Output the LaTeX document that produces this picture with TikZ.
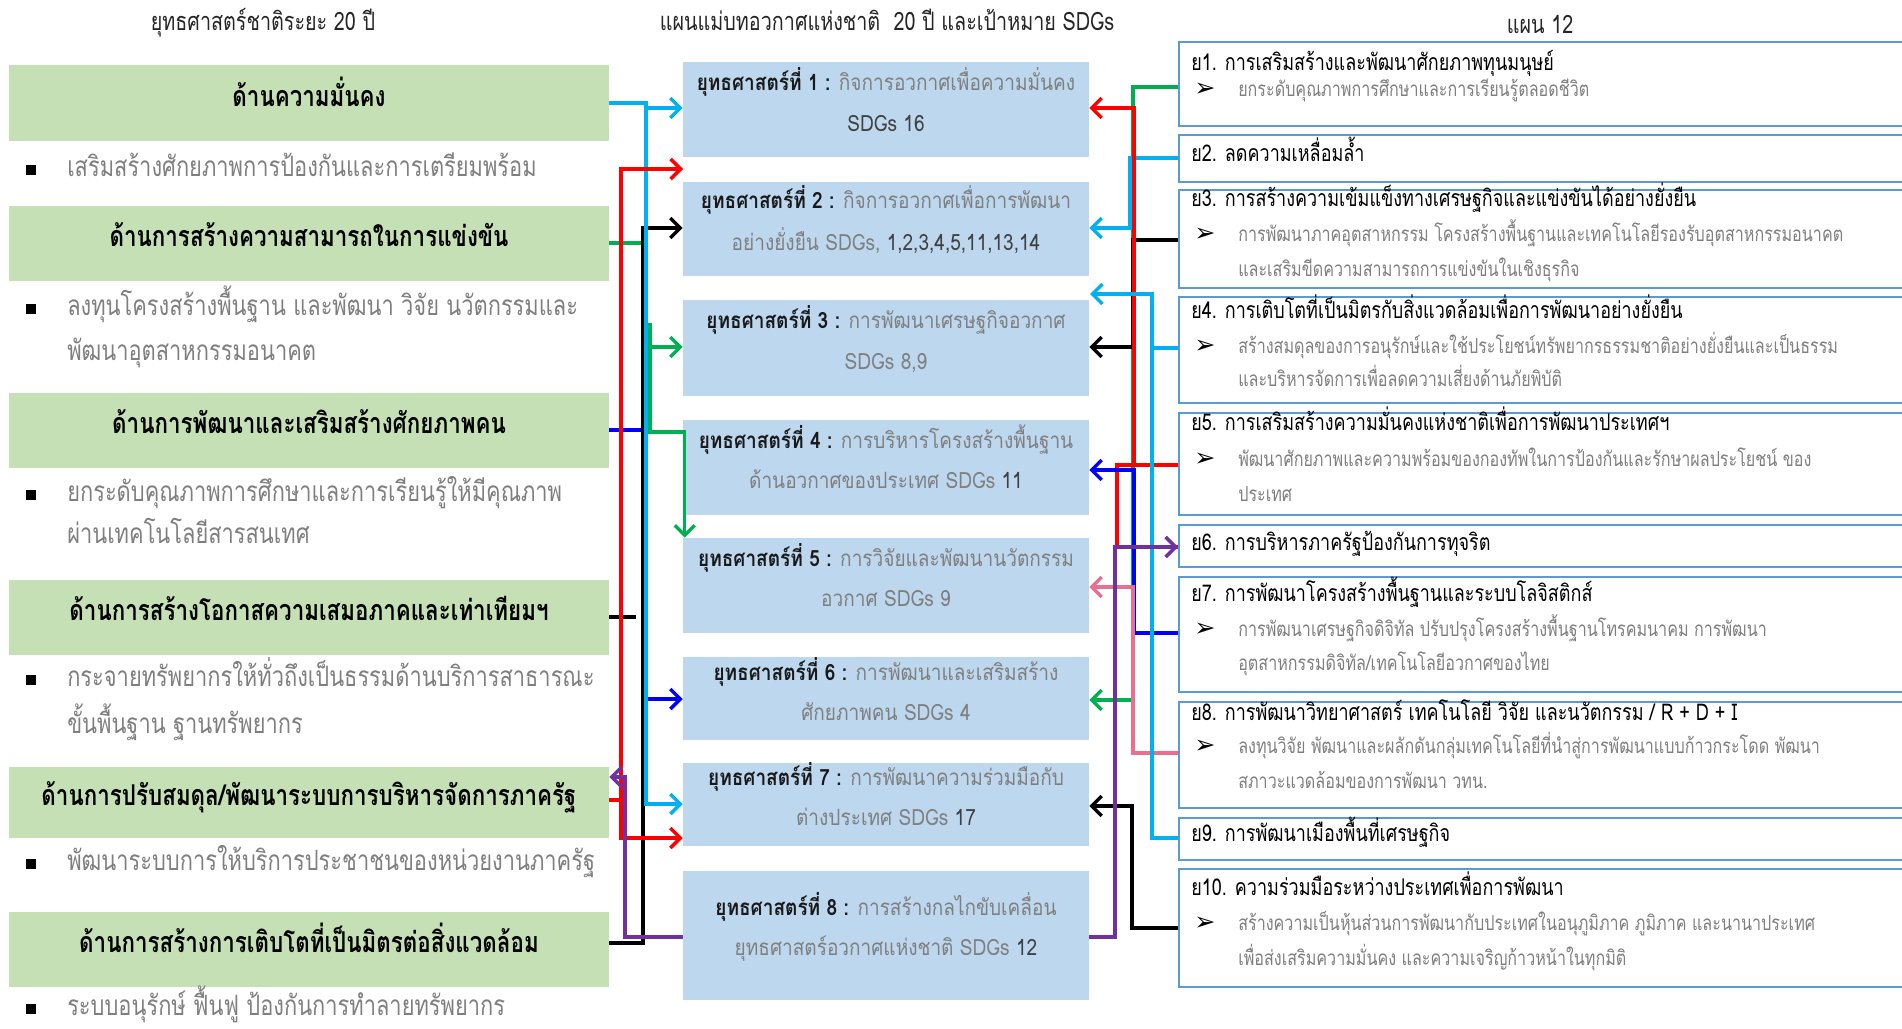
\documentclass[tikz,border=0pt]{standalone}
\usepackage{fontspec}
\setmainfont[Script=Thai,FakeStretch=0.78]{Loma}
\newfontfamily\thaim[Script=Thai,FakeStretch=0.85]{Loma}
\newfontfamily\symf{DejaVu Sans}
\usetikzlibrary{arrows.meta,fit}
\definecolor{gbx}{HTML}{C5E0B4}
\definecolor{mbx}{HTML}{BDD7EE}
\definecolor{rbd}{HTML}{5B9BD5}
\definecolor{gtx}{HTML}{7F7F7F}
\definecolor{dtx}{HTML}{404040}
\definecolor{cyl}{HTML}{00B0F0}
\definecolor{rdl}{HTML}{FF0000}
\definecolor{grl}{HTML}{00B050}
\definecolor{bll}{HTML}{0000FF}
\definecolor{pul}{HTML}{7030A0}
\definecolor{pkl}{HTML}{E8708E}
\tikzset{arr/.tip={Straight Barb[length=7.5pt,width=15pt]}}
\newcommand\st[1]{{\bfseries\color{black!90}ยุทธศาสตร์ที่ #1 :}}
\newcommand\dk[1]{{\color{dtx}#1}}
\begin{document}
\begin{tikzpicture}[x=0.75pt,y=-0.75pt,
  gbox/.style={fill=gbx,draw=none,inner sep=0pt},
  mbox/.style={fill=mbx,draw=none,inner sep=0pt},
  rbox/.style={fill=white,draw=rbd,line width=1.5pt,inner sep=0pt},
  ttl/.style={font=\fontsize{19}{22}\selectfont,text=black!85,inner sep=0pt,anchor=mid},
  lt/.style={font=\bfseries\fontsize{21.5}{25}\selectfont,text=black,inner sep=0pt,anchor=mid},
  lb/.style={font=\fontsize{21}{25}\selectfont,text=gtx,inner sep=0pt,anchor=mid west},
  lsq/.style={fill=black,inner sep=0pt,minimum size=7pt},
  mt/.style={font=\thaim\fontsize{16.8}{20}\selectfont,text=gtx,inner sep=0pt,anchor=mid},
  rt/.style={font=\fontsize{17.3}{20}\selectfont,text=black,inner sep=0pt,anchor=mid west},
  rb/.style={font=\fontsize{15.5}{18}\selectfont,text=gtx,inner sep=0pt,anchor=mid west},
  ra/.style={font=\symf\fontsize{19}{19}\selectfont,text=black,inner sep=0pt,anchor=mid},
  ln/.style={line width=2.6pt}]
\useasboundingbox (0,0) rectangle (1902,1028);
\clip (0,0) rectangle (1902,1028);
\fill[white] (0,0) rectangle (1902,1028);

% titles
\node[ttl] (T1) at (263,27) {ยุทธศาสตร์ชาติระยะ 20 ปี};
\node[ttl] (T2) at (887,27) {แผนแม่บทอวกาศแห่งชาติ\ \ 20 ปี และเป้าหมาย SDGs};
\node[ttl] (T3) at (1540,30) {แผน 12};

% left boxes
\node[gbox,fit={(9,65)(609,141)}] (L1) {};
\node[gbox,fit={(9,206)(609,281)}] (L2) {};
\node[gbox,fit={(9,393)(609,468)}] (L3) {};
\node[gbox,fit={(9,580)(609,655)}] (L4) {};
\node[gbox,fit={(9,767)(609,838)}] (L5) {};
\node[gbox,fit={(9,912)(609,987)}] (L6) {};
\node[lt] (lt1) at (L1.center) {ด้านความมั่นคง};
\node[lt] (lt2) at (L2.center) {ด้านการสร้างความสามารถในการแข่งขัน};
\node[lt] (lt3) at (L3.center) {ด้านการพัฒนาและเสริมสร้างศักยภาพคน};
\node[lt] (lt4) at (L4.center) {ด้านการสร้างโอกาสความเสมอภาคและเท่าเทียมฯ};
\node[lt] (lt5) at (L5.center) {ด้านการปรับสมดุล/พัฒนาระบบการบริหารจัดการภาครัฐ};
\node[lt] (lt6) at (L6.center) {ด้านการสร้างการเติบโตที่เป็นมิตรต่อสิ่งแวดล้อม};

\node[lsq] (q1) at (31,170) {};
\node[lb] (b1) at (67,173) {เสริมสร้างศักยภาพการป้องกันและการเตรียมพร้อม};
\node[lsq] (q2) at (31,309) {};
\node[lb] (b2a) at (67,312) {ลงทุนโครงสร้างพื้นฐาน และพัฒนา วิจัย นวัตกรรมและ};
\node[lb] (b2b) at (67,357) {พัฒนาอุตสาหกรรมอนาคต};
\node[lsq] (q3) at (31,495) {};
\node[lb] (b3a) at (67,498) {ยกระดับคุณภาพการศึกษาและการเรียนรู้ให้มีคุณภาพ};
\node[lb] (b3b) at (67,540) {ผ่านเทคโนโลยีสารสนเทศ};
\node[lsq] (q4) at (31,680) {};
\node[lb] (b4a) at (67,683) {กระจายทรัพยากรให้ทั่วถึงเป็นธรรมด้านบริการสาธารณะ};
\node[lb] (b4b) at (67,730) {ขั้นพื้นฐาน ฐานทรัพยากร};
\node[lsq] (q5) at (31,864) {};
\node[lb] (b5) at (67,867) {พัฒนาระบบการให้บริการประชาชนของหน่วยงานภาครัฐ};
\node[lsq] (q6) at (31,1009) {};
\node[lb] (b6) at (67,1012) {ระบบอนุรักษ์ ฟื้นฟู ป้องกันการทำลายทรัพยากร};

% middle boxes
\node[mbox,fit={(683,62)(1089,157)}] (M1) {};
\node[mbox,fit={(683,182)(1089,276)}] (M2) {};
\node[mbox,fit={(683,300)(1089,396)}] (M3) {};
\node[mbox,fit={(683,420)(1089,515)}] (M4) {};
\node[mbox,fit={(683,538)(1089,633)}] (M5) {};
\node[mbox,fit={(683,657)(1089,740)}] (M6) {};
\node[mbox,fit={(683,763)(1089,846)}] (M7) {};
\node[mbox,fit={(683,871)(1089,1000)}] (M8) {};
\node[mt] (m1a) at (886,87) {\st{1} กิจการอวกาศเพื่อความมั่นคง};
\node[mt] (m1b) at (886,128) {\dk{SDGs 16}};
\node[mt] (m2a) at (886,205) {\st{2} กิจการอวกาศเพื่อการพัฒนา};
\node[mt] (m2b) at (886,247) {อย่างยั่งยืน SDGs, \dk{1,2,3,4,5,11,13,14}};
\node[mt] (m3a) at (886,325) {\st{3} การพัฒนาเศรษฐกิจอวกาศ};
\node[mt] (m3b) at (886,366) {SDGs 8,9};
\node[mt] (m4a) at (886,445) {\st{4} การบริหารโครงสร้างพื้นฐาน};
\node[mt] (m4b) at (886,485) {ด้านอวกาศของประเทศ SDGs \dk{11}};
\node[mt] (m5a) at (886,563) {\st{5} การวิจัยและพัฒนานวัตกรรม};
\node[mt] (m5b) at (886,603) {อวกาศ SDGs 9};
\node[mt] (m6a) at (886,677) {\st{6} การพัฒนาและเสริมสร้าง};
\node[mt] (m6b) at (886,717) {ศักยภาพคน SDGs 4};
\node[mt] (m7a) at (886,782) {\st{7} การพัฒนาความร่วมมือกับ};
\node[mt] (m7b) at (886,822) {ต่างประเทศ SDGs \dk{17}};
\node[mt] (m8a) at (886,912) {\st{8} การสร้างกลไกขับเคลื่อน};
\node[mt] (m8b) at (886,952) {ยุทธศาสตร์อวกาศแห่งชาติ SDGs \dk{12}};

% right boxes
\node[rbox,fit={(1179,42)(1915,126)}] (R1) {};
\node[rbox,fit={(1179,135)(1915,182)}] (R2) {};
\node[rbox,fit={(1179,190)(1915,288)}] (R3) {};
\node[rbox,fit={(1179,297)(1915,403)}] (R4) {};
\node[rbox,fit={(1179,413)(1915,515)}] (R5) {};
\node[rbox,fit={(1179,525)(1915,567)}] (R6) {};
\node[rbox,fit={(1179,577)(1915,692)}] (R7) {};
\node[rbox,fit={(1179,702)(1915,808)}] (R8) {};
\node[rbox,fit={(1179,818)(1915,860)}] (R9) {};
\node[rbox,fit={(1179,869)(1915,987)}] (R10) {};

\node[rt] (r1t) at (1191,67) {ย1. การเสริมสร้างและพัฒนาศักยภาพทุนมนุษย์};
\node[ra] (r1x) at (1205,93) {➢};
\node[rb] (r1a) at (1238,93) {ยกระดับคุณภาพการศึกษาและการเรียนรู้ตลอดชีวิต};
\node[rt] (r2t) at (1191,158) {ย2. ลดความเหลื่อมล้ำ};
\node[rt] (r3t) at (1191,203) {ย3. การสร้างความเข้มแข็งทางเศรษฐกิจและแข่งขันได้อย่างยั่งยืน};
\node[ra] (r3x) at (1205,238) {➢};
\node[rb] (r3a) at (1238,238) {การพัฒนาภาคอุตสาหกรรม โครงสร้างพื้นฐานและเทคโนโลยีรองรับอุตสาหกรรมอนาคต};
\node[rb] (r3b) at (1238,273) {และเสริมขีดความสามารถการแข่งขันในเชิงธุรกิจ};
\node[rt] (r4t) at (1191,315) {ย4. การเติบโตที่เป็นมิตรกับสิ่งแวดล้อมเพื่อการพัฒนาอย่างยั่งยืน};
\node[ra] (r4x) at (1205,350) {➢};
\node[rb] (r4a) at (1238,350) {สร้างสมดุลของการอนุรักษ์และใช้ประโยชน์ทรัพยากรธรรมชาติอย่างยั่งยืนและเป็นธรรม};
\node[rb] (r4b) at (1238,383) {และบริหารจัดการเพื่อลดความเสี่ยงด้านภัยพิบัติ};
\node[rt] (r5t) at (1191,427) {ย5. การเสริมสร้างความมั่นคงแห่งชาติเพื่อการพัฒนาประเทศฯ};
\node[ra] (r5x) at (1205,463) {➢};
\node[rb] (r5a) at (1238,463) {พัฒนาศักยภาพและความพร้อมของกองทัพในการป้องกันและรักษาผลประโยชน์ ของ};
\node[rb] (r5b) at (1238,498) {ประเทศ};
\node[rt] (r6t) at (1191,547) {ย6. การบริหารภาครัฐป้องกันการทุจริต};
\node[rt] (r7t) at (1191,598) {ย7. การพัฒนาโครงสร้างพื้นฐานและระบบโลจิสติกส์};
\node[ra] (r7x) at (1205,633) {➢};
\node[rb] (r7a) at (1238,633) {การพัฒนาเศรษฐกิจดิจิทัล ปรับปรุงโครงสร้างพื้นฐานโทรคมนาคม การพัฒนา};
\node[rb] (r7b) at (1238,667) {อุตสาหกรรมดิจิทัล/เทคโนโลยีอวกาศของไทย};
\node[rt] (r8t) at (1191,717) {ย8. การพัฒนาวิทยาศาสตร์ เทคโนโลยี วิจัย และนวัตกรรม / R + D + I};
\node[ra] (r8x) at (1205,750) {➢};
\node[rb] (r8a) at (1238,750) {ลงทุนวิจัย พัฒนาและผลักดันกลุ่มเทคโนโลยีที่นำสู่การพัฒนาแบบก้าวกระโดด พัฒนา};
\node[rb] (r8b) at (1238,785) {สภาวะแวดล้อมของการพัฒนา วทน.};
\node[rt] (r9t) at (1191,838) {ย9. การพัฒนาเมืองพื้นที่เศรษฐกิจ};
\node[rt] (r10t) at (1191,892) {ย10. ความร่วมมือระหว่างประเทศเพื่อการพัฒนา};
\node[ra] (r10x) at (1205,927) {➢};
\node[rb] (r10a) at (1238,927) {สร้างความเป็นหุ้นส่วนการพัฒนากับประเทศในอนุภูมิภาค ภูมิภาค และนานาประเทศ};
\node[rb] (r10b) at (1238,962) {เพื่อส่งเสริมความมั่นคง และความเจริญก้าวหน้าในทุกมิติ};

% ---- left connectors
\draw[ln,bll,-arr] (L3.east |- 0,430) -- (644,430) |- (M6.west |- 0,699);
\draw[ln,grl,-arr] (L2.east |- 0,243) -- (645,243) -- (645,325) -- (650,325) -- (650,432) -| ([xshift=1.5pt]M5.north west);
\coordinate (gj) at (650,347);
\draw[ln,grl,-arr] (gj) -- (M3.west |- gj);
\coordinate (bstub) at (636,617);
\draw[ln,black] (L4.east |- bstub) -- (bstub);
\draw[ln,black,-arr] (L6.east |- 0,943) -- (643,943) |- (M2.west |- 0,228);
\draw[ln,cyl,-arr] (L1.east |- 0,103) -- (646,103) |- (M7.west |- 0,804);
\coordinate (cj) at (646,108);
\draw[ln,cyl,-arr] (cj) -- (M1.west |- cj);
\coordinate (rj) at (621,800);
\coordinate (gap12) at (683,169);
\draw[ln,rdl,-arr] (L5.east |- rj) -- (rj) -- (rj |- gap12) -- (gap12);
\draw[ln,rdl,-arr] (rj) |- (M7.west |- 0,838);
\draw[ln,pul,-arr] (M8.west |- 0,937) -- (625,937) |- (L5.east |- 0,777);

% ---- right connectors
\draw[ln,grl,-arr] (R1.west |- 0,87) -- (1133,87) |- (M6.east |- 0,700);
\draw[ln,cyl,-arr] (R2.west |- 0,158) -- (1130,158) |- (M2.east |- 0,228);
\draw[ln,black,-arr] (R3.west |- 0,240) -- (1133,240) |- (M3.east |- 0,347);
\draw[ln,rdl] (R6.west |- 0,547) -- (1117,547) -- (1117,465) -- (1134,465);
\draw[ln,rdl,-arr] (R5.west |- 0,465) -- (1134,465) |- (M1.east |- 0,108);
\draw[ln,bll,-arr] (R7.west |- 0,633) -- (1134,633) |- (M4.east |- 0,470);
\draw[ln,pkl,-arr] (R8.west |- 0,753) -- (1133,753) |- (M5.east |- 0,587);
\coordinate (gap23) at (1090,294);
\draw[ln,cyl] (R4.west |- 0,348) -- (1152,348);
\draw[ln,cyl,-arr] (R9.west |- 0,838) -- (1152,838) |- (gap23);
\draw[ln,black,-arr] (R10.west |- 0,928) -- (1132,928) |- (M7.east |- 0,806);
\draw[ln,pul,-arr] (M8.east |- 0,937) -- (1115,937) |- (R6.west |- 0,547);
\end{tikzpicture}
\end{document}
